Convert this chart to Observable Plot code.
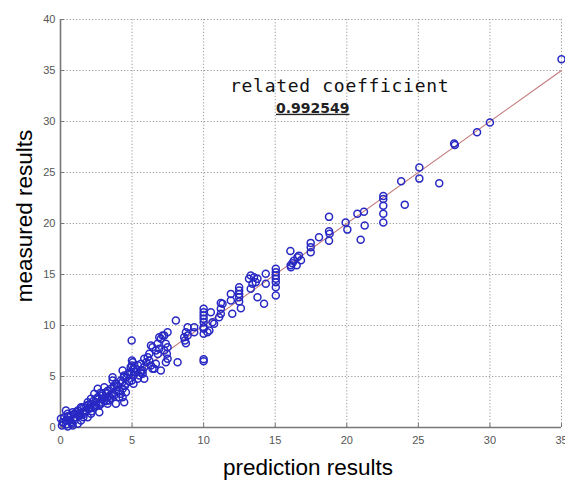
<!DOCTYPE html>
<html><head><meta charset="utf-8">
<script src="https://cdn.jsdelivr.net/npm/d3@7"></script>
<script src="https://cdn.jsdelivr.net/npm/@observablehq/plot@0.6"></script>
<style>body{margin:0;background:#fff} svg{display:block}</style>
</head><body><div id="chart"></div>
<script>
const predicted = [35.0,30.0,29.1,27.5,27.55,25.07,25.07,23.8,26.46,24.05,
22.55,22.55,22.55,22.55,22.55,21.2,20.74,21.25,20.97,19.92,20.04,18.76,18.76,18.8,18.76,18.06,
17.48,17.48,17.48,16.66,16.06,16.55,16.8,16.3,16.2,16.08,16.5,16.1,
15.04,15.04,15.04,15.04,15.04,15.04,15.04,14.34,14.34,14.22,13.76,13.64,13.52,13.29,13.17,13.41,13.76,13.29,
12.48,12.48,12.48,12.48,12.48,11.9,11.9,12.6,12.0,11.2,11.2,11.2,11.08,11.32,10.5,10.62,10.73,10.4,10.27,
10.0,10.0,10.0,10.0,10.0,10.0,10.0,10.0,10.0,10.0,
9.34,9.34,8.88,8.76,8.64,8.69,8.76,8.88,8.06,8.18,
7.25,7.48,7.36,7.48,7.25,7.43,7.48,7.36,7.13,7.01,6.9,6.78,6.66,6.9,6.43,6.32,6.2,6.09,6.2,6.32,6.66,6.55,6.43,7.01,
5.85,5.62,5.85,5.74,5.62,5.74,5.5,5.85,
4.97,4.99,5.05,4.99,5.1,4.95,5.1,4.99,5.1,5.27,5.39,
4.34,4.45,4.22,4.57,4.34,4.22,4.34,4.45,4.57,4.1,
3.64,3.64,3.75,3.52,3.64,3.75,3.4,3.87,
3.06,3.18,2.94,3.29,3.06,2.83,3.29,2.6,2.36,2.6,2.13,2.48,2.13,1.9,2.71,2.36,2.01,1.66,2.71,
1.43,1.2,1.55,0.96,1.31,1.08,0.73,1.66,0.85,0.38,0.5,0.27,0.03,0.38,0.15,0.61,0.73,0.96,1.2,0.85,1.43,1.9,2.13,1.78,
0.1,0.5,1.6,2.2,2.9,3.4,3.9,4.6,4.8,2.5,1.4,
0.2,0.4,0.6,0.9,1.1,1.3,1.5,1.7,1.9,2.1,2.3,2.5,2.7,2.9,3.1,3.3,3.5,3.7,3.9,4.1,4.3,4.5,4.7,4.9,
0.5,0.8,1.0,1.8,2.4,2.8,3.2,3.6,4.0,4.4,4.8,5.2,5.4,5.6,6.0,6.8];
const measured = [36.1,29.9,28.95,27.85,27.7,25.5,24.4,24.15,23.95,21.85,
22.7,22.4,21.75,20.95,20.1,21.15,20.95,19.8,18.4,20.1,19.4,20.65,19.25,19.0,18.3,18.66,
18.1,17.68,17.19,16.85,17.3,16.7,16.4,16.35,16.1,15.9,15.9,15.7,
15.56,15.23,14.9,14.58,14.25,13.75,12.94,15.07,14.09,12.13,14.58,14.25,14.74,14.9,14.58,14.09,12.78,13.6,
13.75,13.43,13.1,12.78,12.35,13.1,12.45,11.7,11.15,12.2,11.64,11.14,10.8,12.13,11.3,10.32,10.17,9.5,9.34,
11.64,11.3,10.98,10.65,10.32,9.83,9.67,9.18,6.7,6.5,
9.83,9.34,9.83,9.34,8.85,8.53,8.26,9.02,10.49,6.4,
9.02,9.34,8.2,7.87,7.55,7.22,6.73,6.4,9.02,8.7,8.85,8.2,7.55,7.71,7.87,8.04,7.22,6.89,6.57,6.08,6.25,5.76,5.76,5.59,
6.73,6.25,5.91,5.59,5.59,5.26,5.1,4.77,
8.53,6.57,6.4,6.08,5.75,5.42,5.1,4.6,4.28,5.42,4.77,
5.59,5.1,4.6,4.28,3.79,3.3,2.97,2.48,3.46,2.97,
4.93,4.6,4.12,3.79,3.3,3.14,2.65,2.32,
3.95,3.46,3.14,2.97,2.65,2.32,2.32,3.79,3.3,2.97,2.81,2.48,2.32,2.48,2.16,1.99,1.83,1.99,1.5,
1.99,1.67,1.5,1.34,1.18,1.01,1.18,1.34,1.5,1.67,1.34,1.01,0.85,0.69,0.52,0.69,0.52,0.69,0.36,0.2,0.69,1.01,1.34,1.67,
0.2,0.1,1.0,1.6,2.8,3.1,3.6,4.9,4.5,2.2,1.2,
0.5,0.3,1.0,0.9,1.5,1.4,1.9,1.6,2.2,1.9,2.6,2.8,2.4,3.3,3.0,3.6,2.9,3.9,4.3,3.6,4.4,4.1,5.2,5.9,
1.1,0.4,1.3,2.1,2.0,3.4,2.6,3.3,4.0,4.9,5.4,5.8,6.1,5.4,6.4,7.2];
const xTicks = [0,5,10,15,20,25,30,35];
const yTicks = [0,5,10,15,20,25,30,35,40];
const fitLine = [0, 35];
const xTitle = "prediction results";
const yTitle = "measured results";
const coefficientLabel = [{x: 19.5, y: 33.5, text: "related coefficient"}];
const coefficientValue = [{x: 17.62, y: 31.3, text: "0.992549"}];

const points = predicted.map((x, i) => ({x, y: measured[i]}));
const linePts = fitLine.map(v => ({x: v, y: v}));

const chart = Plot.plot({
  width: 565, height: 484,
  marginLeft: 60, marginRight: 4, marginTop: 19, marginBottom: 57,
  x: {domain: [0, 35]},
  y: {domain: [0, 40]},
  style: {fontFamily: "'Liberation Sans', Arial, sans-serif", background: "#fff"},
  marks: [
    Plot.gridX(xTicks, {stroke: "#999", strokeOpacity: 1, strokeDasharray: "1.2,2"}),
    Plot.gridY(yTicks, {stroke: "#999", strokeOpacity: 1, strokeDasharray: "1.2,2"}),
    Plot.axisX(xTicks, {tickSize: 0, tickPadding: 9, fontSize: 11, color: "#555", label: null}),
    Plot.axisY(yTicks, {tickSize: 0, tickPadding: 5, fontSize: 11, color: "#555", label: null}),
    Plot.ruleY(yTicks, {x1: 0, x2: 0.3, stroke: "#777"}),
    Plot.ruleX(xTicks, {y1: 0, y2: 0.4, stroke: "#777"}),
    Plot.ruleY([0], {stroke: "#777", strokeWidth: 1.6}),
    Plot.ruleX([0], {stroke: "#777", strokeWidth: 1.6}),
    Plot.line(linePts, {x: "x", y: "y", stroke: "#c47a7a", strokeWidth: 1.1}),
    Plot.dot(points, {x: "x", y: "y", r: 3.5, stroke: "#2828c4", strokeWidth: 1.5}),
    Plot.text(coefficientLabel, {x: "x", y: "y", text: "text", fontSize: 18, fontFamily: "'DejaVu Sans Mono', monospace", fill: "#111", className: "coef-label"}),
    Plot.text(coefficientValue, {x: "x", y: "y", text: "text", fontSize: 14, fontWeight: "bold", fontFamily: "'DejaVu Sans', sans-serif", fill: "#222", className: "coef-value"}),
    Plot.text([xTitle], {frameAnchor: "bottom", dy: 40, dx: -3, fontSize: 22.5, fill: "#000", textAnchor: "middle", lineAnchor: "middle"}),
    Plot.text([yTitle], {frameAnchor: "left", rotate: -90, dx: -36, dy: -7.5, fontSize: 22.5, fill: "#000", textAnchor: "middle", lineAnchor: "middle"})
  ]
});
d3.select(chart).selectAll(".coef-label text").style("letter-spacing", "0.7px");
d3.select(chart).selectAll(".coef-value text").style("text-decoration", "underline");
document.getElementById("chart").appendChild(chart);
</script>
</body></html>
